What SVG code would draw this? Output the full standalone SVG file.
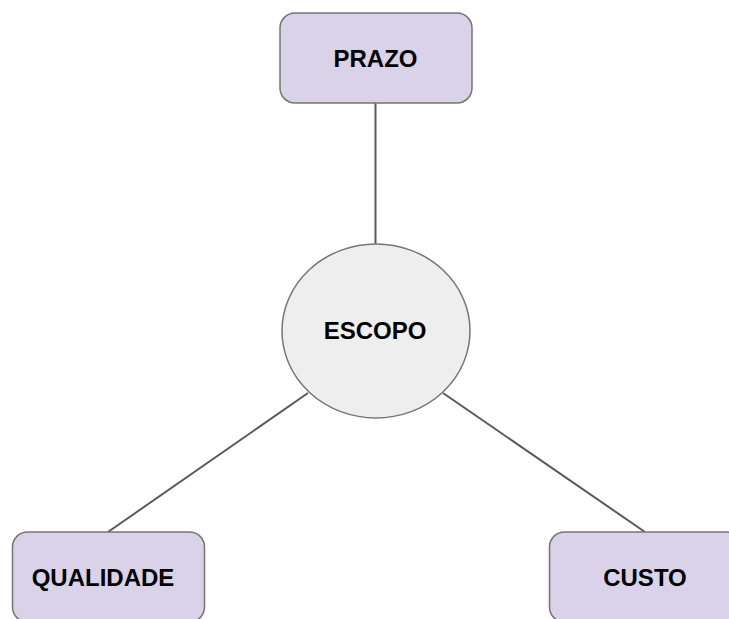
<svg xmlns="http://www.w3.org/2000/svg" width="729" height="619" viewBox="0 0 729 619">
<style>
.box{fill:#d9d2e9;stroke:#757575;stroke-width:1.5}
.ell{fill:#eeeeee;stroke:#757575;stroke-width:1.5}
.lbl{font-family:"Liberation Sans",Arial,sans-serif;font-weight:bold;font-size:24px;fill:#000;text-anchor:middle}
.conn{stroke:#595959;stroke-width:2;fill:none}
</style>
<rect width="729" height="619" fill="#ffffff"/>
<g id="connectors">
<line class="conn" x1="375.5" y1="103" x2="375.5" y2="244"/>
<line class="conn" x1="308" y1="393" x2="108" y2="532"/>
<line class="conn" x1="443" y1="393" x2="645" y2="532"/>
</g>
<g id="prazo">
<rect class="box" x="280" y="13" width="192" height="90" rx="15"/>
<text class="lbl" x="375.5" y="67">PRAZO</text>
</g>
<g id="escopo">
<ellipse class="ell" cx="376" cy="331" rx="94" ry="87"/>
<text class="lbl" x="375" y="339">ESCOPO</text>
</g>
<g id="qualidade">
<rect class="box" x="12.5" y="532" width="192" height="90" rx="15"/>
<text class="lbl" x="103" y="586">QUALIDADE</text>
</g>
<g id="custo">
<rect class="box" x="549.5" y="532" width="192" height="90" rx="15"/>
<text class="lbl" x="645" y="586">CUSTO</text>
</g>
</svg>
